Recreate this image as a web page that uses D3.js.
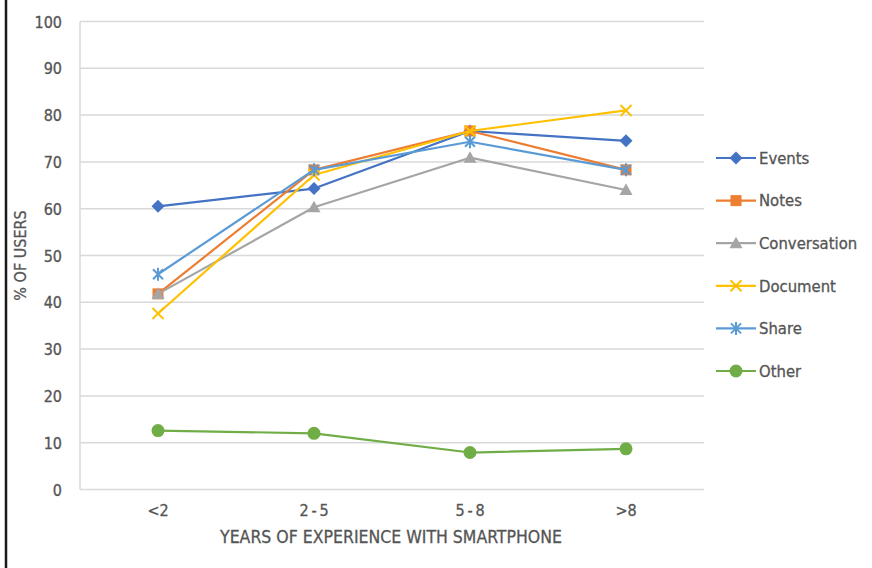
<!DOCTYPE html>
<html>
<head>
<meta charset="utf-8">
<script src="https://cdn.jsdelivr.net/npm/d3@7"></script>
<style>
  html, body { margin: 0; padding: 0; background: #fff; }
  svg { display: block; }
  text { font-family: "DejaVu Sans Condensed", "Liberation Sans Narrow", "Roboto", sans-serif; fill: #555555; stroke: #555555; stroke-width: 0.3px; }
</style>
</head>
<body>
<svg id="chart" width="872" height="568"></svg>
<script>
// Experience groups on the x axis
const categories = ["<2", "2-5", "5-8", ">8"];
const tickLabels = ["<2", "2\u2009-\u20095", "5\u2009-\u20098", ">8"];
const yTicks = [0, 10, 20, 30, 40, 50, 60, 70, 80, 90, 100];

// Share of users (%) per experience group
const events       = [60.5, 64.3, 76.6, 74.5];
const notes        = [41.8, 68.3, 76.6, 68.3];
const conversation = [41.8, 60.3, 70.9, 64.0];
const documentUse  = [37.6, 67.2, 76.6, 81.0];
const share        = [46.0, 68.3, 74.3, 68.3];
const other        = [12.6, 12.0, 7.9, 8.7];

const seriesNames  = ["Events", "Notes", "Conversation", "Document", "Share", "Other"];
const seriesValues = [events, notes, conversation, documentUse, share, other];
const seriesColors = ["#4472c4", "#ed7d31", "#a5a5a5", "#ffc000", "#5b9bd5", "#70ad47"];
const seriesMarkers = ["diamond", "square", "triangle", "x", "star", "circle"];

const svg = d3.select("#chart");
const plot = { left: 80, right: 704, top: 21.5, bottom: 489.5 };

const x = d3.scaleBand().domain(categories).range([plot.left, plot.right]);
const xc = c => x(c) + x.bandwidth() / 2;
const y = d3.scaleLinear().domain([0, 100]).range([plot.bottom, plot.top]);

// left frame line of the page
svg.append("line")
  .attr("x1", 6).attr("x2", 6).attr("y1", 0).attr("y2", 568)
  .attr("stroke", "#1a1a1a").attr("stroke-width", 2.5);

// horizontal gridlines
svg.append("g").selectAll("line").data(yTicks).join("line")
  .attr("x1", plot.left).attr("x2", plot.right)
  .attr("y1", d => y(d)).attr("y2", d => y(d))
  .attr("stroke", "#d9d9d9").attr("stroke-width", 1.5);

// left edge of the plot area
svg.append("line")
  .attr("x1", plot.left).attr("x2", plot.left)
  .attr("y1", y(100)).attr("y2", y(0))
  .attr("stroke", "#d9d9d9").attr("stroke-width", 1.5);

// y tick labels
const yAxis = d3.axisLeft(y).tickValues(yTicks).tickSize(0).tickPadding(0);
const gy = svg.append("g").attr("transform", `translate(${plot.left - 18},0)`).call(yAxis);
gy.select(".domain").remove();
gy.selectAll("text").style("font-size", "16px").attr("fill", "#555555").attr("dy", "0.35em");

// x tick labels
const xAxis = d3.axisBottom(x).tickFormat((d, i) => tickLabels[i]).tickSize(0).tickPadding(0);
const gx = svg.append("g").attr("transform", `translate(0,${plot.bottom + 21})`).call(xAxis);
gx.select(".domain").remove();
gx.selectAll("text").style("font-size", "16px").attr("fill", "#555555").attr("dy", "0.35em");

// axis titles
svg.append("text")
  .attr("x", (plot.left + plot.right) / 2 - 1).attr("y", 537)
  .attr("text-anchor", "middle").attr("dy", "0.35em")
  .style("font-size", "17.5px")
  .text("YEARS OF EXPERIENCE WITH SMARTPHONE");

svg.append("text")
  .attr("transform", `translate(20,${(plot.top + plot.bottom) / 2}) rotate(-90)`)
  .attr("text-anchor", "middle").attr("dy", "0.35em")
  .style("font-size", "16px")
  .text("% OF USERS");

// marker drawing
function drawMarker(g, type, color) {
  switch (type) {
    case "diamond":
      g.append("path").attr("d", "M0,-6.5L6.5,0L0,6.5L-6.5,0Z").attr("fill", color);
      break;
    case "square":
      g.append("rect").attr("x", -5.5).attr("y", -5.5).attr("width", 11).attr("height", 11).attr("fill", color);
      break;
    case "triangle":
      g.append("path").attr("d", "M0,-6.5L6.5,5L-6.5,5Z").attr("fill", color);
      break;
    case "x":
      g.append("path").attr("d", "M-5.5,-5.5L5.5,5.5M-5.5,5.5L5.5,-5.5")
        .attr("stroke", color).attr("stroke-width", 2).attr("fill", "none");
      break;
    case "star":
      g.append("path").attr("d", "M-5,-5L5,5M-5,5L5,-5M0,-6.5L0,6.5")
        .attr("stroke", color).attr("stroke-width", 2).attr("fill", "none");
      break;
    case "circle":
      g.append("circle").attr("r", 6.5).attr("fill", color);
      break;
  }
}

const line = d3.line().x((d, i) => xc(categories[i])).y(d => y(d));

// series lines and markers
seriesValues.forEach((vals, s) => {
  const g = svg.append("g");
  g.append("path").datum(vals).attr("d", line)
    .attr("fill", "none").attr("stroke", seriesColors[s]).attr("stroke-width", 2.2)
    .attr("stroke-linejoin", "round").attr("stroke-linecap", "round");
  vals.forEach((v, i) => {
    const m = g.append("g").attr("transform", `translate(${xc(categories[i])},${y(v)})`);
    drawMarker(m, seriesMarkers[s], seriesColors[s]);
  });
});

// legend
const legend = svg.append("g").attr("transform", "translate(716,158)");
seriesNames.forEach((name, s) => {
  const row = legend.append("g").attr("transform", `translate(0,${s * 42.6})`);
  row.append("line").attr("x1", 0).attr("x2", 40).attr("y1", 0).attr("y2", 0)
    .attr("stroke", seriesColors[s]).attr("stroke-width", 2.2);
  const m = row.append("g").attr("transform", "translate(20,0)");
  drawMarker(m, seriesMarkers[s], seriesColors[s]);
  row.append("text").attr("x", 43).attr("y", 0).attr("dy", "0.35em")
    .style("font-size", "16.5px").text(name);
});
</script>
</body>
</html>
